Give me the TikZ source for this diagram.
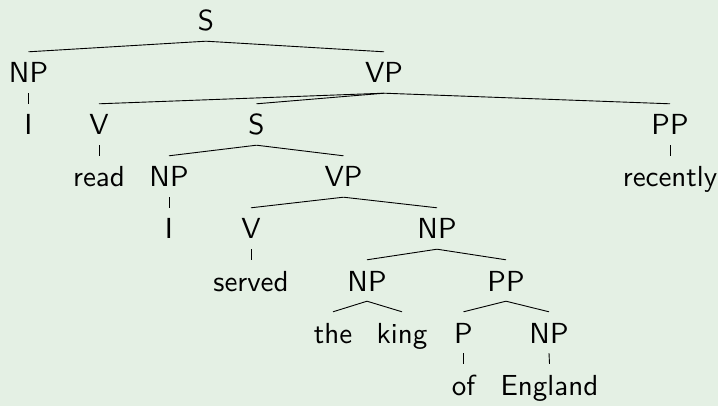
\documentclass[tikz,border=0pt]{standalone}
\usepackage{fontspec}
\newfontfamily\treefont{lmsans10-regular.otf}
\definecolor{bg}{RGB}{228,240,228}
\begin{document}
\begin{tikzpicture}[x=1pt,y=-1pt,
  tn/.style={anchor=base, inner sep=0pt, text height=31pt, text depth=10pt,
    font=\treefont\fontsize{29}{34}\selectfont},
  edge/.style={line width=0.9pt}]
\fill[bg] (0,0) rectangle (718,406);
\useasboundingbox (0,0) rectangle (718,406);
\node[tn] (S0) at (206,31) {S};
\node[tn] (NP1) at (28.5,83) {NP};
\node[tn] (VP1) at (384,83) {VP};
\node[tn] (I1) at (28.5,135) {I};
\node[tn] (V1) at (99,135) {V};
\node[tn] (S2) at (256.5,135) {S};
\node[tn] (PP1) at (670,135) {PP};
\node[tn] (read) at (99,187) {read};
\node[tn] (NP2) at (169,187) {NP};
\node[tn] (VP2) at (343.5,187) {VP};
\node[tn] (recently) at (670,187) {recently};
\node[tn] (I2) at (169,239) {I};
\node[tn] (V2) at (251,239) {V};
\node[tn] (NP3) at (437,239) {NP};
\node[tn] (served) at (251,291) {served};
\node[tn] (NP4) at (367,291) {NP};
\node[tn] (PP2) at (506,291) {PP};
\node[tn] (the) at (333,343) {the};
\node[tn] (king) at (402,343) {king};
\node[tn] (P) at (463.5,343) {P};
\node[tn] (NP5) at (549,343) {NP};
\node[tn] (of) at (463.5,395) {of};
\node[tn] (England) at (549.5,395) {England};
\foreach \p/\c in {S0/NP1,S0/VP1,NP1/I1,VP1/V1,VP1/S2,VP1/PP1,V1/read,S2/NP2,S2/VP2,PP1/recently,NP2/I2,VP2/V2,VP2/NP3,V2/served,NP3/NP4,NP3/PP2,NP4/the,NP4/king,PP2/P,PP2/NP5,P/of,NP5/England}
  \draw[edge] (\p.south) -- (\c.north);
\end{tikzpicture}
\end{document}
